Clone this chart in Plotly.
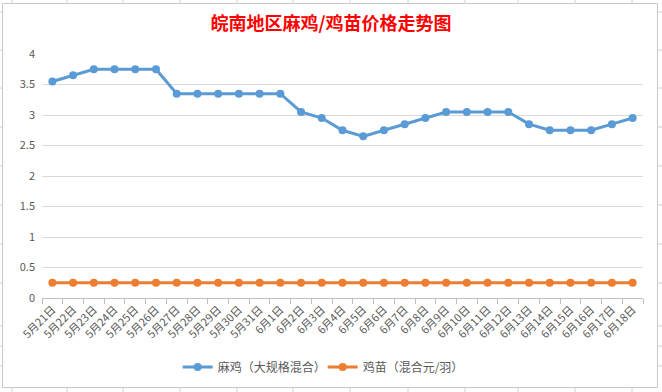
import plotly.graph_objects as go

dates = ["5月21日", "5月22日", "5月23日", "5月24日", "5月25日", "5月26日", "5月27日", "5月28日",
         "5月29日", "5月30日", "5月31日", "6月1日", "6月2日", "6月3日", "6月4日", "6月5日",
         "6月6日", "6月7日", "6月8日", "6月9日", "6月10日", "6月11日", "6月12日", "6月13日",
         "6月14日", "6月15日", "6月16日", "6月17日", "6月18日"]
maji = [3.55, 3.65, 3.75, 3.75, 3.75, 3.75, 3.35, 3.35, 3.35, 3.35, 3.35, 3.35, 3.05, 2.95,
        2.75, 2.65, 2.75, 2.85, 2.95, 3.05, 3.05, 3.05, 3.05, 2.85, 2.75, 2.75, 2.75, 2.85, 2.95]
jimiao = [0.25] * 29
y_ticks = [0, 0.5, 1, 1.5, 2, 2.5, 3, 3.5, 4]
name_maji = "麻鸡（大规格混合）"
name_jimiao = "鸡苗（混合元/羽）"
title = "皖南地区麻鸡/鸡苗价格走势图"

W, H = 662, 392
L, R, T, B = 42, 643, 54, 298

def px(x):
    return (x - L) / (R - L)

def py(y):
    return (B - y) / (B - T)

FONT = "Noto Sans CJK SC, Microsoft YaHei, sans-serif"

fig = go.Figure()
fig.add_trace(go.Scatter(x=dates, y=maji, name=name_maji, mode="lines+markers",
                         line=dict(color="#5B9BD5", width=3),
                         marker=dict(color="#5B9BD5", size=8)))
fig.add_trace(go.Scatter(x=dates, y=jimiao, name=name_jimiao, mode="lines+markers",
                         line=dict(color="#ED7D31", width=3),
                         marker=dict(color="#ED7D31", size=8)))

shapes = []
gc = "#D0D0D0"
shapes.append(dict(type="rect", xref="paper", yref="paper",
                   x0=px(2.5), x1=px(657.5), y0=py(3.5), y1=py(387.5),
                   line=dict(color="#C8C8C8", width=1), layer="below"))
for xv in [12, 67, 123, 180, 237, 293, 350, 408, 465, 518, 575, 632]:
    shapes.append(dict(type="line", xref="paper", yref="paper", x0=px(xv), x1=px(xv),
                       y0=py(0), y1=py(3.5), line=dict(color=gc, width=1)))
    shapes.append(dict(type="line", xref="paper", yref="paper", x0=px(xv), x1=px(xv),
                       y0=py(387.5), y1=py(392), line=dict(color=gc, width=1)))
for yv in [12, 50, 88, 127, 166, 205, 244, 283, 326, 346, 366]:
    shapes.append(dict(type="line", xref="paper", yref="paper", x0=px(0), x1=px(2.5),
                       y0=py(yv), y1=py(yv), line=dict(color=gc, width=1)))
    shapes.append(dict(type="line", xref="paper", yref="paper", x0=px(657.5), x1=px(662),
                       y0=py(yv), y1=py(yv), line=dict(color=gc, width=1)))

fig.update_layout(
    template="none",
    width=W, height=H,
    margin=dict(l=L, r=W - R, t=T, b=H - B, pad=0, autoexpand=False),
    paper_bgcolor="white", plot_bgcolor="white",
    font=dict(family=FONT, color="#595959", size=11),
    title=dict(text=title, x=0.5, xanchor="center", y=1 - 24 / H, yanchor="middle",
               automargin=False,
               font=dict(family=FONT, size=18, color="#FF0000", weight="bold")),
    xaxis=dict(type="category", range=[-0.5, len(dates) - 0.5], autorange=False,
               showgrid=False, showline=True, linecolor="#BFBFBF",
               ticks="outside", tickson="boundaries", ticklen=5, tickcolor="#BFBFBF",
               tickangle=-45, tickfont=dict(size=11, color="#595959"),
               automargin=False, zeroline=False),
    yaxis=dict(range=[0, 4], tickvals=y_ticks, ticktext=[f"{v:g}" for v in y_ticks],
               showgrid=True, gridcolor="#D9D9D9", gridwidth=1, zeroline=False,
               showline=False, ticks="", tickfont=dict(size=11, color="#595959"),
               ticklabelstandoff=6, automargin=False),
    legend=dict(orientation="h", x=0.467, xanchor="center", y=py(367), yanchor="middle",
                font=dict(size=12, color="#595959"), itemwidth=30,
                entrywidth=100, entrywidthmode="pixels", bgcolor="rgba(0,0,0,0)"),
    shapes=shapes,
    showlegend=True,
)

fig.write_html("out.html", config={"displayModeBar": False, "staticPlot": True},
               post_script="document.body.style.margin='0';document.body.style.overflow='hidden';")
